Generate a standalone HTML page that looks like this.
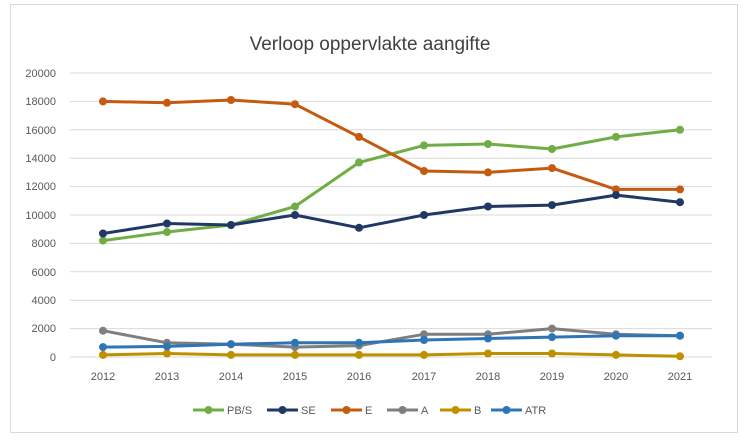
<!DOCTYPE html>
<html><head><meta charset="utf-8"><style>body{margin:0;background:#fff}svg{display:block}text{font-family:"Liberation Sans",sans-serif}</style></head><body>
<svg width="750" height="447" xmlns="http://www.w3.org/2000/svg">
<rect x="10.5" y="4.5" width="727" height="428" fill="#fff" stroke="#d9d9d9"/>
<text x="370" y="50" font-size="19" text-anchor="middle" fill="#404040">Verloop oppervlakte aangifte</text>
<g stroke="#d9d9d9" stroke-width="1">
<line x1="70" x2="712" y1="73" y2="73"/><line x1="70" x2="712" y1="101.4" y2="101.4"/><line x1="70" x2="712" y1="129.8" y2="129.8"/><line x1="70" x2="712" y1="158.2" y2="158.2"/><line x1="70" x2="712" y1="186.6" y2="186.6"/><line x1="70" x2="712" y1="215" y2="215"/><line x1="70" x2="712" y1="243.4" y2="243.4"/><line x1="70" x2="712" y1="271.8" y2="271.8"/><line x1="70" x2="712" y1="300.2" y2="300.2"/><line x1="70" x2="712" y1="328.6" y2="328.6"/><line x1="70" x2="712" y1="357" y2="357"/>
</g>
<g font-size="11" fill="#595959" text-anchor="end">
<text x="56" y="77">20000</text><text x="56" y="105">18000</text><text x="56" y="134">16000</text><text x="56" y="162">14000</text><text x="56" y="190">12000</text><text x="56" y="219">10000</text><text x="56" y="247">8000</text><text x="56" y="276">6000</text><text x="56" y="304">4000</text><text x="56" y="332">2000</text><text x="56" y="361">0</text>
</g>
<g font-size="11" fill="#595959" text-anchor="middle">
<text x="103" y="380">2012</text><text x="167" y="380">2013</text><text x="231" y="380">2014</text><text x="295" y="380">2015</text><text x="359" y="380">2016</text><text x="424" y="380">2017</text><text x="488" y="380">2018</text><text x="552" y="380">2019</text><text x="616" y="380">2020</text><text x="680" y="380">2021</text>
</g>
<g fill="none" stroke-width="3" stroke-linejoin="round">
<polyline stroke="#7f7f7f" points="103,330.7 167,342.8 231,344.2 295,347.1 359,345.6 424,334.3 488,334.3 552,328.6 616,334.3 680,335.7"/>
<polyline stroke="#bf9000" points="103,354.9 167,353.5 231,354.9 295,354.9 359,354.9 424,354.9 488,353.5 552,353.5 616,354.9 680,356.3"/>
<polyline stroke="#2e75b6" points="103,347.1 167,346.4 231,344.2 295,342.8 359,342.8 424,340 488,338.5 552,337.1 616,335.7 680,335.7"/>
<polyline stroke="#70ad47" points="103,240.6 167,232 231,225 295,206.5 359,162.5 424,145.4 488,144 552,149 616,136.9 680,129.8"/>
<polyline stroke="#c55a11" points="103,101.4 167,102.8 231,100 295,104.2 359,136.9 424,171 488,172.4 552,168.1 616,189.4 680,189.4"/>
<polyline stroke="#203864" points="103,233.5 167,223.5 231,225 295,215 359,227.8 424,215 488,206.5 552,205.1 616,195.1 680,202.2"/>
</g>
<g stroke="none">
<g fill="#7f7f7f"><circle cx="103" cy="330.7" r="4"/><circle cx="167" cy="342.8" r="4"/><circle cx="231" cy="344.2" r="4"/><circle cx="295" cy="347.1" r="4"/><circle cx="359" cy="345.6" r="4"/><circle cx="424" cy="334.3" r="4"/><circle cx="488" cy="334.3" r="4"/><circle cx="552" cy="328.6" r="4"/><circle cx="616" cy="334.3" r="4"/><circle cx="680" cy="335.7" r="4"/></g>
<g fill="#bf9000"><circle cx="103" cy="354.9" r="4"/><circle cx="167" cy="353.5" r="4"/><circle cx="231" cy="354.9" r="4"/><circle cx="295" cy="354.9" r="4"/><circle cx="359" cy="354.9" r="4"/><circle cx="424" cy="354.9" r="4"/><circle cx="488" cy="353.5" r="4"/><circle cx="552" cy="353.5" r="4"/><circle cx="616" cy="354.9" r="4"/><circle cx="680" cy="356.3" r="4"/></g>
<g fill="#2e75b6"><circle cx="103" cy="347.1" r="4"/><circle cx="167" cy="346.4" r="4"/><circle cx="231" cy="344.2" r="4"/><circle cx="295" cy="342.8" r="4"/><circle cx="359" cy="342.8" r="4"/><circle cx="424" cy="340" r="4"/><circle cx="488" cy="338.5" r="4"/><circle cx="552" cy="337.1" r="4"/><circle cx="616" cy="335.7" r="4"/><circle cx="680" cy="335.7" r="4"/></g>
<g fill="#70ad47"><circle cx="103" cy="240.6" r="4"/><circle cx="167" cy="232" r="4"/><circle cx="231" cy="225" r="4"/><circle cx="295" cy="206.5" r="4"/><circle cx="359" cy="162.5" r="4"/><circle cx="424" cy="145.4" r="4"/><circle cx="488" cy="144" r="4"/><circle cx="552" cy="149" r="4"/><circle cx="616" cy="136.9" r="4"/><circle cx="680" cy="129.8" r="4"/></g>
<g fill="#c55a11"><circle cx="103" cy="101.4" r="4"/><circle cx="167" cy="102.8" r="4"/><circle cx="231" cy="100" r="4"/><circle cx="295" cy="104.2" r="4"/><circle cx="359" cy="136.9" r="4"/><circle cx="424" cy="171" r="4"/><circle cx="488" cy="172.4" r="4"/><circle cx="552" cy="168.1" r="4"/><circle cx="616" cy="189.4" r="4"/><circle cx="680" cy="189.4" r="4"/></g>
<g fill="#203864"><circle cx="103" cy="233.5" r="4"/><circle cx="167" cy="223.5" r="4"/><circle cx="231" cy="225" r="4"/><circle cx="295" cy="215" r="4"/><circle cx="359" cy="227.8" r="4"/><circle cx="424" cy="215" r="4"/><circle cx="488" cy="206.5" r="4"/><circle cx="552" cy="205.1" r="4"/><circle cx="616" cy="195.1" r="4"/><circle cx="680" cy="202.2" r="4"/></g>
</g>
<g font-size="11" fill="#595959" stroke-width="3">
<line x1="193" x2="224" y1="410" y2="410" stroke="#70ad47"/><circle cx="208.5" cy="410" r="4" fill="#70ad47"/><text x="227" y="414">PB/S</text>
<line x1="267" x2="298" y1="410" y2="410" stroke="#203864"/><circle cx="282.5" cy="410" r="4" fill="#203864"/><text x="301" y="414">SE</text>
<line x1="331" x2="362" y1="410" y2="410" stroke="#c55a11"/><circle cx="346.5" cy="410" r="4" fill="#c55a11"/><text x="365" y="414">E</text>
<line x1="387" x2="418" y1="410" y2="410" stroke="#7f7f7f"/><circle cx="402.5" cy="410" r="4" fill="#7f7f7f"/><text x="421" y="414">A</text>
<line x1="440" x2="471" y1="410" y2="410" stroke="#bf9000"/><circle cx="455.5" cy="410" r="4" fill="#bf9000"/><text x="474" y="414">B</text>
<line x1="491" x2="522" y1="410" y2="410" stroke="#2e75b6"/><circle cx="506.5" cy="410" r="4" fill="#2e75b6"/><text x="525" y="414">ATR</text>
</g>
</svg>
</body></html>
